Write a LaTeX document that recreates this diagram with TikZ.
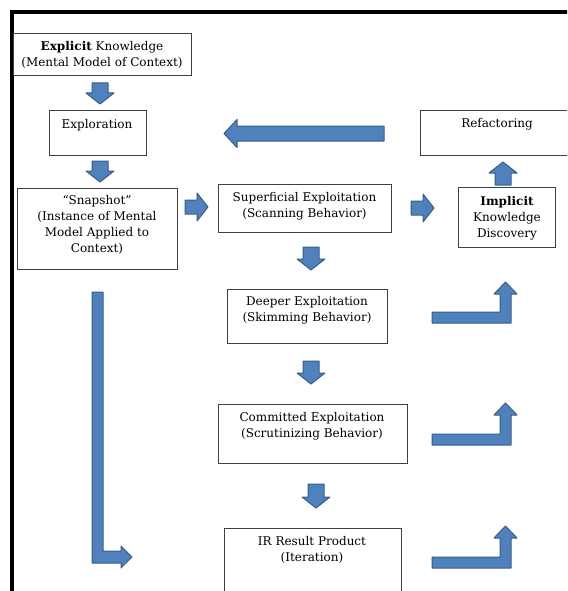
\documentclass[tikz,border=0pt]{standalone}
\usepackage{fontspec}
\setmainfont{DejaVu Serif}
\definecolor{arrowfill}{HTML}{4F81BD}
\definecolor{arrowline}{HTML}{385D8A}
\newcommand\blkarr[6]{% x, y of tail centre, rotation, length, head length, shaft half width
  \begin{scope}[shift={(#1,#2)}, rotate=#3]
    \draw[barrow] (0,-#6) -- (#4-#5,-#6) -- (#4-#5,-14) -- (#4,0) -- (#4-#5,14) -- (#4-#5,#6) -- (0,#6) -- cycle;
  \end{scope}}
\newcommand\bentarr[2]{% bottom y of horizontal bar, tip y
  \draw[barrow] (432,#1-11) -- (500,#1-11) -- (500,#2+12) -- (494,#2+12) -- (505.5,#2)
    -- (517,#2+12) -- (511,#2+12) -- (511,#1) -- (432,#1) -- cycle;}
\begin{document}
\begin{tikzpicture}[x=1pt,y=-1pt,
  box/.style={draw=black!75, line width=0.9pt, inner sep=0pt, anchor=north west},
  txt/.style={align=center, inner sep=0pt, font=\fontsize{12}{16}\selectfont, text=black},
  barrow/.style={fill=arrowfill, draw=arrowline, line width=1pt, line join=round}]
\useasboundingbox (0,0) rectangle (567,591);
\clip (0,0) rectangle (567,591);
\fill[white] (0,0) rectangle (567,591);
\draw[line width=3.5pt] (12,600) -- (12,12) -- (600,12);

% boxes
\node[box, minimum width=178pt, minimum height=42pt] (expl) at (13,33) {};
\node[box, minimum width=97pt, minimum height=45pt] (explor) at (49,110) {};
\node[box, minimum width=160pt, minimum height=81pt] (snap) at (17,188) {};
\node[box, minimum width=173pt, minimum height=48pt] (sup) at (218,184) {};
\node[box, minimum width=97pt, minimum height=60pt] (impl) at (458,187) {};
\node[box, minimum width=160pt, minimum height=45pt] (refac) at (420,110) {};
\node[box, minimum width=160pt, minimum height=54pt] (deep) at (227,289) {};
\node[box, minimum width=189pt, minimum height=59pt] (comm) at (218,404) {};
\node[box, minimum width=177pt, minimum height=70pt] (ir) at (224,528) {};

% texts
\node[txt] (explt) at (102,55) {\textbf{Explicit} Knowledge\\(Mental Model of Context)};
\node[txt] (explort) at (97,125) {Exploration};
\node[txt] (snapt) at (97,225) {“Snapshot”\\(Instance of Mental\\Model Applied to\\Context)};
\node[txt] (supt) at (304.5,206) {Superficial Exploitation\\(Scanning Behavior)};
\node[txt] (implt) at (507,218) {\textbf{Implicit}\\Knowledge\\Discovery};
\node[txt] (refact) at (497,124) {Refactoring};
\node[txt] (deept) at (307,310) {Deeper Exploitation\\(Skimming Behavior)};
\node[txt] (commt) at (312,426) {Committed Exploitation\\(Scrutinizing Behavior)};
\node[txt] (irt) at (312,550) {IR Result Product\\(Iteration)};

% block arrows
\blkarr{100}{83}{-90}{21}{11}{8}
\blkarr{100}{161}{-90}{21}{11}{8}
\blkarr{185}{207}{0}{23}{11}{7}
\blkarr{411}{208}{0}{23}{11}{7}
\blkarr{503}{185}{90}{23}{11}{8}
\blkarr{311}{247}{-90}{23}{11}{8}
\blkarr{311}{361}{-90}{23}{11}{8}
\blkarr{316}{484}{-90}{24}{11}{8}
\blkarr{384}{133.5}{180}{160}{13}{7.5}
\bentarr{323}{282}
\bentarr{445}{403}
\bentarr{568}{526}
\draw[barrow] (92,292) -- (103,292) -- (103,551) -- (121,551) -- (121,546) -- (132,557)
  -- (121,568) -- (121,563) -- (92,563) -- cycle;
\end{tikzpicture}
\end{document}
